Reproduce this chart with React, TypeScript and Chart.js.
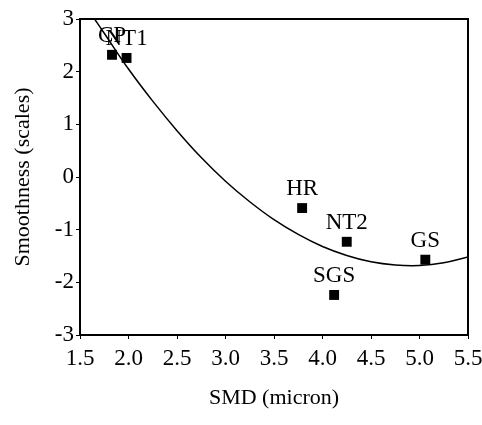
import React, { useEffect, useRef } from "react";
import { Chart, registerables } from "chart.js";

Chart.register(...registerables);

const pointLabels = ["CP", "NT1", "HR", "NT2", "SGS", "GS"];
const pointX = [1.83, 1.98, 3.79, 4.25, 4.12, 5.06];
const pointY = [2.32, 2.26, -0.59, -1.23, -2.24, -1.57];

const curveX = [1.65, 1.75, 2.0, 2.25, 2.5, 2.75, 3.0, 3.25, 3.5, 3.75, 4.0, 4.25, 4.5, 4.75, 5.0, 5.25, 5.5];
const curveY = [3.0, 2.73, 2.05, 1.44, 0.88, 0.37, -0.08, -0.47, -0.81, -1.09, -1.32, -1.49, -1.61, -1.67, -1.68, -1.63, -1.52];

const xTicks = [1.5, 2.0, 2.5, 3.0, 3.5, 4.0, 4.5, 5.0, 5.5];
const yTicks = [-3, -2, -1, 0, 1, 2, 3];

const FONT = "Liberation Serif";

const labelPlugin = {
  id: "labelsAndFrame",
  afterDatasetsDraw(chart: any) {
    const ctx = chart.ctx;
    const meta = chart.getDatasetMeta(1);
    ctx.save();
    ctx.font = `23px "${FONT}"`;
    ctx.fillStyle = "#000";
    ctx.textAlign = "center";
    ctx.textBaseline = "middle";
    meta.data.forEach((el: any, i: number) => {
      ctx.fillText(pointLabels[i], el.x, el.y - 19);
    });
    const a = chart.chartArea;
    ctx.strokeStyle = "#000";
    ctx.lineWidth = 2;
    ctx.strokeRect(a.left, a.top, a.right - a.left, a.bottom - a.top);
    ctx.restore();
  },
};

export default function App() {
  const ref = useRef<HTMLCanvasElement>(null);
  useEffect(() => {
    let chart: any = null;
    let cancelled = false;
    const make = () => {
      if (cancelled || !ref.current) return;
      chart = new Chart(ref.current, {
        type: "scatter",
        data: {
          datasets: [
            {
              type: "line",
              data: curveX.map((x, i) => ({ x, y: curveY[i] })),
              borderColor: "#000",
              borderWidth: 1.5,
              pointRadius: 0,
              tension: 0.4,
              fill: false,
            } as any,
            {
              data: pointX.map((x, i) => ({ x, y: pointY[i] })),
              pointStyle: "rect",
              pointRadius: 7,
              backgroundColor: "#000",
              borderColor: "#000",
              borderWidth: 0,
            },
          ],
        },
        options: {
          animation: false,
          responsive: false,
          maintainAspectRatio: false,
          layout: { padding: { top: 19, right: 14, left: 0, bottom: 0 } },
          plugins: { legend: { display: false }, tooltip: { enabled: false } },
          scales: {
            x: {
              type: "linear",
              min: 1.5,
              max: 5.5,
              afterBuildTicks: (s: any) => {
                s.ticks = xTicks.map((v) => ({ value: v }));
              },
              afterFit: (s: any) => {
                s.height = 90;
                s.paddingRight = 0;
                s.paddingLeft = 0;
              },
              ticks: {
                color: "#000",
                font: { family: FONT, size: 23 },
                padding: 6,
                maxRotation: 0,
                callback: (v: any) => Number(v).toFixed(1),
              },
              grid: { display: true, drawOnChartArea: false, tickLength: 4, color: "#000" },
              border: { color: "#000", width: 2 },
              title: {
                display: true,
                text: "SMD (micron)",
                color: "#000",
                font: { family: FONT, size: 22 },
                padding: { top: 0, bottom: 14 },
              },
            },
            y: {
              type: "linear",
              min: -3,
              max: 3,
              afterBuildTicks: (s: any) => {
                s.ticks = yTicks.map((v) => ({ value: v }));
              },
              afterFit: (s: any) => {
                s.width = 80;
              },
              ticks: {
                color: "#000",
                font: { family: FONT, size: 23 },
                padding: 2,
                callback: (v: any) => String(v),
              },
              grid: { display: true, drawOnChartArea: false, tickLength: 4, color: "#000" },
              border: { color: "#000", width: 2 },
              title: {
                display: true,
                text: "Smoothness (scales)",
                color: "#000",
                font: { family: FONT, size: 22 },
                padding: { top: 10, bottom: 0 },
              },
            },
          },
        },
        plugins: [labelPlugin],
      });
    };
    const fonts: any = (document as any).fonts;
    if (fonts && fonts.load) {
      fonts.load(`22px "${FONT}"`).then(make, make);
    } else {
      make();
    }
    return () => {
      cancelled = true;
      if (chart) chart.destroy();
    };
  }, []);
  return (
    <div style={{ position: "absolute", left: 0, top: 0, width: 482, height: 425, background: "#fff" }}>
      <span style={{ fontFamily: FONT, position: "absolute", visibility: "hidden" }}>SMD 0123</span>
      <canvas ref={ref} width={482} height={425} style={{ display: "block" }} />
    </div>
  );
}
